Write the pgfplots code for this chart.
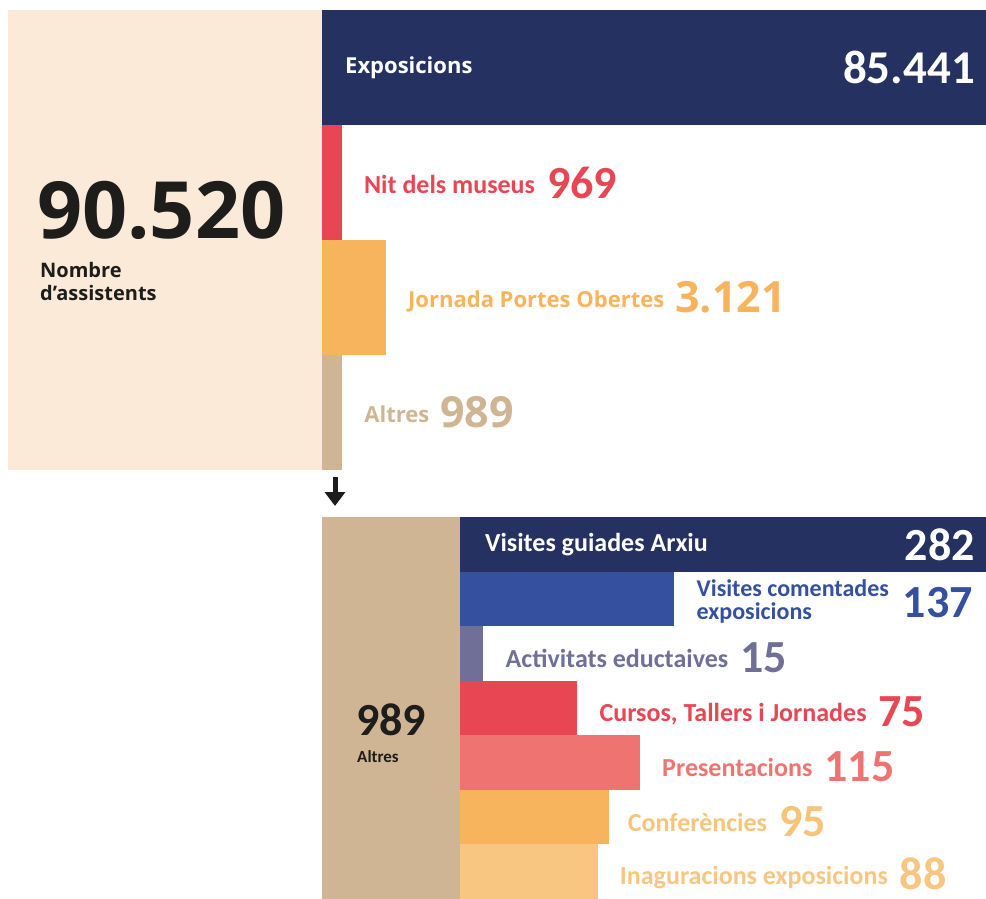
\documentclass[border=0pt]{standalone}
\usepackage{pgfplots}
\pgfplotsset{compat=1.18}
\usetikzlibrary{arrows.meta}
\usepackage{fontspec}
\setmainfont{Open Sans}
\newfontfamily\carl{Carlito}

\definecolor{navy}{RGB}{36,49,97}
\definecolor{vermell}{RGB}{232,70,82}
\definecolor{taronja}{RGB}{247,180,92}
\definecolor{terra}{RGB}{207,181,147}
\definecolor{pell}{RGB}{252,234,217}
\definecolor{blau}{RGB}{52,80,158}
\definecolor{lila}{RGB}{111,111,152}
\definecolor{salmo}{RGB}{239,116,113}
\definecolor{crema}{RGB}{249,198,130}
\definecolor{crematxt}{RGB}{248,196,122}
\definecolor{fosc}{RGB}{29,29,27}

\newcommand{\fs}[1]{\fontsize{#1}{#1}\selectfont}
% label + number (Open Sans, top block)
\newcommand{\tlab}[2]{\raisebox{5pt}{\bfseries\fs{22}#1}\hspace{11pt}{\bfseries\fs{43}#2}}
% label + number (Carlito)
\newcommand{\clab}[2]{\raisebox{5pt}{\carl\bfseries\fs{26}#1}\hspace{12pt}{\carl\bfseries\fs{46}#2}}

\pgfplotsset{
  panel/.style={scale only axis, hide axis, anchor=south west, y dir=reverse, clip mode=individual},
  barra/.style={xbar, bar shift=0pt, draw=none, fill=#1, nodes near coords align=horizontal,
    every node near coord/.append style={anchor=west, xshift=22pt, inner sep=0pt, text=#1}},
}

\begin{document}
\begin{tikzpicture}
% canvas in pixel units
\begin{axis}[panel, at={(0pt,0pt)}, width=986pt, height=899pt,
  xmin=0, xmax=986, ymin=0, ymax=899, clip=false]
\path (axis cs:0,0) rectangle (axis cs:986,899);
\addplot[fill=pell, draw=none] coordinates {(8,10) (322,10) (322,470) (8,470) (8,10)};
\addplot[fill=terra, draw=none] coordinates {(322,517) (460,517) (460,899) (322,899) (322,517)};
\node[anchor=base west, inner sep=0pt, text=fosc, font=\bfseries\fs{79}] at (axis cs:37,238) {90.520};
\node[anchor=base west, inner sep=0pt, text=fosc, font=\bfseries\fs{20}] at (axis cs:40,277) {Nombre};
\node[anchor=base west, inner sep=0pt, text=fosc, font=\bfseries\fs{20}] at (axis cs:40,300) {d’assistents};
\node[anchor=base west, inner sep=0pt, text=fosc, font=\carl\bfseries\fs{46}] at (axis cs:356,735) {989};
\node[anchor=base west, inner sep=0pt, text=fosc, font=\carl\bfseries\fs{17}] at (axis cs:357,762) {Altres};
\draw[fosc, line width=5pt, -{Triangle[length=14pt, width=20pt]}] (axis cs:335,477) -- (axis cs:335,506);
\end{axis}

% top block: total attendance by type
\begin{axis}[panel, at={(322pt,429pt)}, width=664pt, height=460pt,
  xmin=0, xmax=32380, ymin=0.5, ymax=4.5, bar width=115pt]
\addplot[xbar, bar shift=0pt, fill=navy, draw=none] coordinates {(85441,1)};
\addplot[barra=vermell, nodes near coords={\clab{Nit dels museus}{969}}] coordinates {(969,2)};
\addplot[barra=taronja, nodes near coords={\tlab{Jornada Portes Obertes}{3.121}}] coordinates {(3121,3)};
\addplot[barra=terra, nodes near coords={\tlab{Altres}{989}}] coordinates {(989,4)};
\node[anchor=west, inner sep=0pt, text=white, font=\bfseries\fs{22}, xshift=23pt] at (axis cs:0,1) {Exposicions};
\node[anchor=east, inner sep=0pt, text=white, font=\carl\bfseries\fs{47}, xshift=-11pt] at (axis cs:32380,1) {85.441};
\end{axis}

% bottom block: detail of "Altres"
\begin{axis}[panel, at={(460pt,0pt)}, width=526pt, height=382pt,
  xmin=0, xmax=336, ymin=0.5, ymax=7.5, bar width=54.57pt,
  every node near coord/.append style={yshift=-4pt}]
\fill[navy] (axis cs:0,0.5) rectangle (axis cs:336,1.5);
\addplot[xbar, bar shift=0pt, fill=navy, draw=none] coordinates {(282,1)};
\addplot[barra=blau, nodes near coords={$\vcenter{\hbox{\carl\bfseries\fontsize{24}{21}\selectfont\begin{tabular}{@{}l@{}}Visites comentades\\exposicions\end{tabular}}}$\hspace{14pt}$\vcenter{\hbox{\carl\bfseries\fs{46}137}}$}] coordinates {(137,2)};
\addplot[barra=lila, nodes near coords={\clab{Activitats eductaives}{15}}] coordinates {(15,3)};
\addplot[barra=vermell, nodes near coords={\clab{Cursos, Tallers i Jornades}{75}}] coordinates {(75,4)};
\addplot[barra=salmo, nodes near coords={\clab{Presentacions}{115}}] coordinates {(115,5)};
\addplot[barra=taronja, nodes near coords={\clab{Conferències}{95}},
  every node near coord/.append style={text=crematxt, xshift=-3pt}] coordinates {(95,6)};
\addplot[barra=crema, nodes near coords={\clab{Inaguracions exposicions}{88}},
  every node near coord/.append style={yshift=2pt}] coordinates {(88,7)};
\node[anchor=west, inner sep=0pt, text=white, font=\carl\bfseries\fs{26}, xshift=25pt] at (axis cs:0,1) {Visites guiades Arxiu};
\node[anchor=east, inner sep=0pt, text=white, font=\carl\bfseries\fs{46}, xshift=-11pt] at (axis cs:336,1) {282};
\end{axis}
\end{tikzpicture}
\end{document}
